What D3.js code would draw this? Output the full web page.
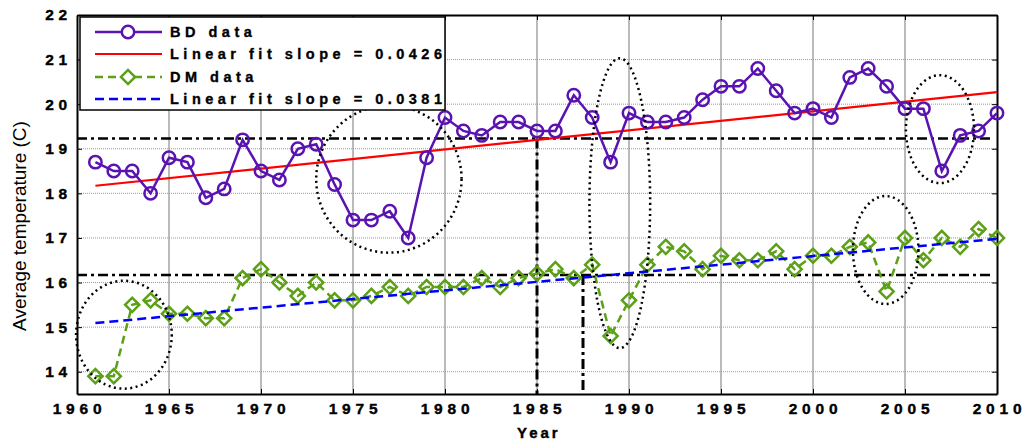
<!DOCTYPE html>
<html>
<head>
<meta charset="utf-8">
<script src="https://cdn.jsdelivr.net/npm/d3@7"></script>
<style>
    body { margin: 0; background: #fff; }
    text { font-family: "Liberation Sans", Arial, sans-serif; }
</style>
</head>
<body>
<div id="chart"></div>
<script>
(function(d3){

    //dados
    var years = [1961,1962,1963,1964,1965,1966,1967,1968,1969,1970,
                 1971,1972,1973,1974,1975,1976,1977,1978,1979,1980,
                 1981,1982,1983,1984,1985,1986,1987,1988,1989,1990,
                 1991,1992,1993,1994,1995,1996,1997,1998,1999,2000,
                 2001,2002,2003,2004,2005,2006,2007,2008,2009,2010];
    var bdData = [18.7,18.5,18.5,18.0,18.8,18.7,17.9,18.1,19.2,18.5,
                  18.3,19.0,19.1,18.2,17.4,17.4,17.6,17.0,18.8,19.7,
                  19.4,19.3,19.6,19.6,19.4,19.4,20.2,19.7,18.7,19.8,
                  19.6,19.6,19.7,20.1,20.4,20.4,20.8,20.3,19.8,19.9,
                  19.7,20.6,20.8,20.4,19.9,19.9,18.5,19.3,19.4,19.8];
    var dmData = [13.9,13.9,15.5,15.6,15.3,15.3,15.2,15.2,16.1,16.3,
                  16.0,15.7,16.0,15.6,15.6,15.7,15.9,15.7,15.9,15.9,
                  15.9,16.1,15.9,16.1,16.2,16.3,16.1,16.4,14.8,15.6,
                  16.4,16.8,16.7,16.3,16.6,16.5,16.5,16.7,16.3,16.6,
                  16.6,16.8,16.9,15.8,17.0,16.5,17.0,16.8,17.2,17.0];
    var fitYears = [1961, 2010];
    var bdFit = [18.17, 20.27];
    var dmFit = [15.09, 16.98];
    var meanLevels = [19.23, 16.17];
    var markYears = [1985, 1987.5];
    var xTicks = [1960,1965,1970,1975,1980,1985,1990,1995,2000,2005,2010];
    var yTicks = [14,15,16,17,18,19,20,21,22];
    var legendLabels = ["BD data", "Linear fit slope = 0.0426", "DM data", "Linear fit slope = 0.0381"];
    //elipses pontilhadas: [ano central, temp central, raio anos, raio temp]
    var ellipses = [[1962.55,14.83,2.6,1.21],[1976.95,18.32,3.95,1.65],
                    [1989.5,17.78,1.65,3.25],[2003.95,16.73,1.78,1.21],
                    [2006.9,19.44,1.85,1.21]];

    var W = 1036, H = 442;
    var left = 77, right = 997, top = 15, bottom = 394;
    var purple = "#5a12b0", green = "#5ba016";

    var svg = d3.select("#chart").append("svg")
            .attr("width", W).attr("height", H);

    var x = d3.scaleLinear().domain([1960, 2010]).range([left, right]);
    var y = d3.scaleLinear().domain([13.5, 22]).range([bottom, top]);

    //grade
    svg.append("g").selectAll("line").data(xTicks.slice(1, -1)).enter().append("line")
            .attr("x1", d => x(d)).attr("x2", d => x(d))
            .attr("y1", top).attr("y2", bottom)
            .attr("stroke", "#777").attr("stroke-width", 1);
    svg.append("g").selectAll("line").data(yTicks.slice(0, -1)).enter().append("line")
            .attr("x1", left).attr("x2", right)
            .attr("y1", d => y(d)).attr("y2", d => y(d))
            .attr("stroke", "#999").attr("stroke-width", 1)
            .attr("stroke-dasharray", "1,1");

    //eixos
    var axB = svg.append("g").attr("transform", "translate(0," + bottom + ")")
            .call(d3.axisBottom(x).tickValues(xTicks).tickFormat(d3.format("d")).tickSizeInner(-5).tickSizeOuter(0).tickPadding(9));
    var axL = svg.append("g").attr("transform", "translate(" + left + ",0)")
            .call(d3.axisLeft(y).tickValues(yTicks).tickSizeInner(-5).tickSizeOuter(0).tickPadding(9));
    var axT = svg.append("g").attr("transform", "translate(0," + top + ")")
            .call(d3.axisTop(x).tickValues(xTicks).tickFormat("").tickSizeInner(-5).tickSizeOuter(0));
    var axR = svg.append("g").attr("transform", "translate(" + right + ",0)")
            .call(d3.axisRight(y).tickValues(yTicks).tickFormat("").tickSizeInner(-5).tickSizeOuter(0));
    [axB, axL, axT, axR].forEach(function(a){
        a.select(".domain").attr("stroke", "#000").attr("stroke-width", 2);
        a.selectAll(".tick line").attr("stroke", "#000").attr("stroke-width", 1);
        a.selectAll("text").attr("font-size", 15.5).attr("font-weight", "bold")
                .attr("letter-spacing", 4.8).attr("fill", "#000")
                .attr("stroke", "#000").attr("stroke-width", 0.4);
    });
    axB.selectAll("text").attr("dx", 2);
    axL.selectAll("text").attr("dx", 4);

    svg.append("text").attr("x", 517).attr("y", 438)
            .attr("font-size", 15).attr("font-weight", "bold").attr("letter-spacing", 3)
            .attr("stroke", "#000").attr("stroke-width", 0.4)
            .text("Year");
    svg.append("text").attr("transform", "translate(26," + 226 + ") rotate(-90)")
            .attr("text-anchor", "middle").attr("font-size", 19)
            .text("Average temperature (C)");

    //linhas de referencia traco-ponto
    svg.append("g").selectAll("line").data(meanLevels).enter().append("line")
            .attr("x1", left).attr("x2", right - 3)
            .attr("y1", d => y(d)).attr("y2", d => y(d))
            .attr("stroke", "#000").attr("stroke-width", 2.5)
            .attr("stroke-dasharray", "10,4,3,4");
    svg.append("g").selectAll("line").data(markYears).enter().append("line")
            .attr("x1", d => x(d)).attr("x2", d => x(d))
            .attr("y1", (d, i) => y(meanLevels[i])).attr("y2", bottom)
            .attr("stroke", "#000").attr("stroke-width", 3)
            .attr("stroke-dasharray", "10,4,3,4");

    //ajustes lineares
    var fitLine = d3.line().x((d, i) => x(fitYears[i])).y(d => y(d));
    svg.append("path").datum(bdFit).attr("d", fitLine)
            .attr("fill", "none").attr("stroke", "#ff0000").attr("stroke-width", 2.2);

    //series
    var line = d3.line().x((d, i) => x(years[i])).y(d => y(d));
    svg.append("path").datum(bdData).attr("d", line)
            .attr("fill", "none").attr("stroke", purple).attr("stroke-width", 2.5);
    svg.append("g").selectAll("circle").data(bdData).enter().append("circle")
            .attr("cx", (d, i) => x(years[i])).attr("cy", d => y(d)).attr("r", 6.2)
            .attr("fill", "none").attr("stroke", purple).attr("stroke-width", 2.5);

    svg.append("path").datum(dmData).attr("d", line)
            .attr("fill", "none").attr("stroke", green).attr("stroke-width", 2.5)
            .attr("stroke-dasharray", "8,5");
    var diamond = d3.symbol().type(d3.symbolSquare).size(100);
    svg.append("g").selectAll("path").data(dmData).enter().append("path")
            .attr("d", diamond)
            .attr("transform", (d, i) => "translate(" + x(years[i]) + "," + y(d) + ") rotate(45)")
            .attr("fill", "none").attr("stroke", green).attr("stroke-width", 2.5);

    svg.append("path").datum(dmFit).attr("d", fitLine)
            .attr("fill", "none").attr("stroke", "#0000ff").attr("stroke-width", 2.5)
            .attr("stroke-dasharray", "9,5");

    //elipses
    var pxYear = x(1961) - x(1960), pxDeg = y(13.5) - y(14.5);
    svg.append("g").selectAll("ellipse").data(ellipses).enter().append("ellipse")
            .attr("cx", d => x(d[0])).attr("cy", d => y(d[1]))
            .attr("rx", d => d[2] * pxYear).attr("ry", d => d[3] * pxDeg)
            .attr("fill", "none").attr("stroke", "#000").attr("stroke-width", 2.5)
            .attr("stroke-dasharray", "2,3.5");

    //legenda
    var lg = svg.append("g").attr("transform", "translate(80,17)");
    lg.append("rect").attr("width", 365).attr("height", 93)
            .attr("fill", "#fff").attr("stroke", "#000").attr("stroke-width", 1.5);
    var rowY = [15, 37, 60, 82];
    var styles = [
        {c: purple, w: 2.5, dash: null, m: "circle"},
        {c: "#ff0000", w: 2.2, dash: null, m: null},
        {c: green, w: 2.5, dash: "8,5", m: "diamond"},
        {c: "#0000ff", w: 2.5, dash: "9,5", m: null}
    ];
    legendLabels.forEach(function(lbl, i){
        var s = styles[i];
        lg.append("line").attr("x1", 15).attr("x2", 82).attr("y1", rowY[i]).attr("y2", rowY[i])
                .attr("stroke", s.c).attr("stroke-width", s.w).attr("stroke-dasharray", s.dash);
        if(s.m == "circle"){
            lg.append("circle").attr("cx", 48).attr("cy", rowY[i]).attr("r", 6.2)
                    .attr("fill", "#fff").attr("stroke", s.c).attr("stroke-width", 2.5);
        }
        if(s.m == "diamond"){
            lg.append("path").attr("d", diamond)
                    .attr("transform", "translate(48," + rowY[i] + ") rotate(45)")
                    .attr("fill", "#fff").attr("stroke", s.c).attr("stroke-width", 2.5);
        }
        lg.append("text").attr("x", 90).attr("y", rowY[i] + 5)
                .attr("font-size", 14.5).attr("font-weight", "bold").attr("letter-spacing", 4.5)
                .attr("stroke", "#000").attr("stroke-width", 0.35)
                .text(lbl);
    });

})(d3);
</script>
</body>
</html>
